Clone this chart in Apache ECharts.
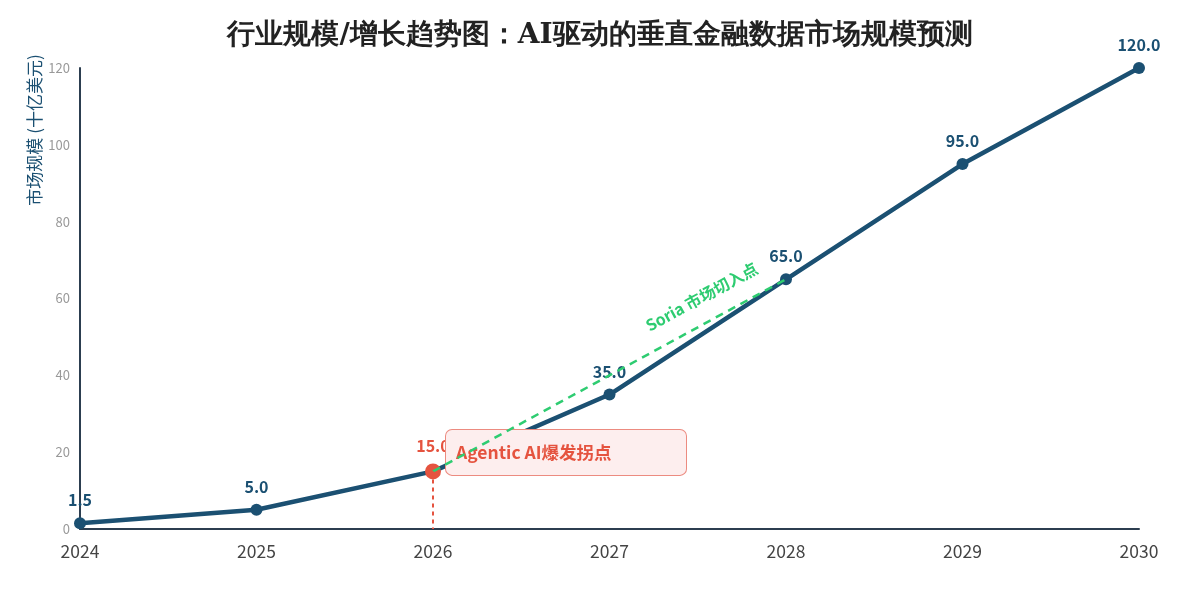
<!DOCTYPE html>
<html>
<head>
<meta charset="utf-8">
<script src="https://cdn.jsdelivr.net/npm/echarts@6/dist/echarts.min.js"></script>
<style>
  html, body { margin: 0; padding: 0; background: #fff; }
  #chart { width: 1200px; height: 600px; }
</style>
</head>
<body>
<div id="chart"></div>
<script>
const years = ['2024', '2025', '2026', '2027', '2028', '2029', '2030']
const marketSize = [1.5, 5.0, 15.0, 35.0, 65.0, 95.0, 120.0]
const inflectionYear = '2026'
const entryYear = '2028'
const yTicks = { min: 0, max: 120, interval: 20 }

const blue = '#1b5072'
const red = '#e5533f'
const green = '#2ecc71'
const font = '"Noto Sans CJK SC", "Noto Sans", sans-serif'

const inflectionIdx = years.indexOf(inflectionYear)
const entryIdx = years.indexOf(entryYear)

const seriesData = marketSize.map((v, i) => {
  if (i !== inflectionIdx) return v
  return {
    value: v,
    symbolSize: 16,
    itemStyle: { color: red },
    label: { color: red },
  }
})

const myChart = echarts.init(document.getElementById('chart'))
const option = {
  backgroundColor: '#fff',
  textStyle: { fontFamily: font },
  title: {
    text: '行业规模/增长趋势图：AI驱动的垂直金融数据市场规模预测',
    left: 'center',
    top: 17,
    textStyle: {
      fontFamily: '"DejaVu Serif", serif',
      fontSize: 28,
      fontWeight: 'bold',
      color: '#222',
    },
  },
  // y 轴标题单独画，位置更好控制
  graphic: [
    {
      type: 'text',
      x: 35,
      y: 130,
      rotation: Math.PI / 2,
      style: {
        text: '市场规模 (十亿美元)',
        fill: blue,
        fontSize: 17,
        fontFamily: font,
        align: 'center',
        verticalAlign: 'middle',
      },
    },
  ],
  grid: {
    left: 80,
    right: 61,
    top: 68,
    bottom: 71,
    outerBoundsMode: 'none',
  },
  xAxis: {
    type: 'category',
    data: years,
    boundaryGap: false,
    axisLine: { lineStyle: { color: '#2c3e50', width: 2 } },
    axisTick: { show: false },
    axisLabel: { fontSize: 17.5, color: '#444', margin: 14 },
  },
  yAxis: {
    type: 'value',
    ...yTicks,
    axisLine: { show: true, lineStyle: { color: '#2c3e50', width: 2 } },
    axisTick: { show: false },
    splitLine: { show: false },
    axisLabel: { fontSize: 13, color: '#999', margin: 10 },
  },
  series: [
    {
      type: 'line',
      data: seriesData,
      symbol: 'circle',
      symbolSize: 12,
      lineStyle: { color: blue, width: 4.5 },
      itemStyle: { color: blue },
      label: {
        show: true,
        position: 'top',
        distance: 9,
        fontSize: 16,
        fontWeight: 'bold',
        color: blue,
        formatter: (p) => p.value.toFixed(1),
      },
      z: 3,
      markLine: {
        silent: true,
        symbol: 'none',
        z: 12,
        data: [
          [
            {
              coord: [inflectionIdx, marketSize[inflectionIdx]],
              lineStyle: { color: green, width: 2.5, type: [8, 6] },
              label: {
                show: true,
                position: 'insideEndTop',
                formatter: 'Soria 市场切入点',
                color: green,
                fontSize: 16,
                fontWeight: 'bold',
                distance: [20, 17],
              },
            },
            { coord: [entryIdx, marketSize[entryIdx]] },
          ],
          [
            {
              coord: [inflectionIdx, marketSize[inflectionIdx]],
              lineStyle: { color: red, width: 2, type: [4, 4] },
              label: { show: false },
            },
            { coord: [inflectionIdx, 0] },
          ],
        ],
      },
      markPoint: {
        silent: true,
        symbol: 'rect',
        symbolSize: 0,
        z: 10,
        data: [
          {
            coord: [inflectionIdx, marketSize[inflectionIdx]],
            label: {
              show: true,
              formatter: 'Agentic AI爆发拐点',
              position: 'inside',
              offset: [13, -19],
              width: 218,
              height: 21,
              lineHeight: 21,
              padding: [12, 12, 12, 10],
              backgroundColor: '#fdeeee',
              borderColor: '#ec8b80',
              borderWidth: 1,
              borderRadius: 6,
              color: red,
              fontSize: 17.5,
              fontWeight: 'bold',
              align: 'left',
              verticalAlign: 'middle',
            },
          },
        ],
      },
    },
  ],
}
myChart.setOption(option, true)
</script>
</body>
</html>
